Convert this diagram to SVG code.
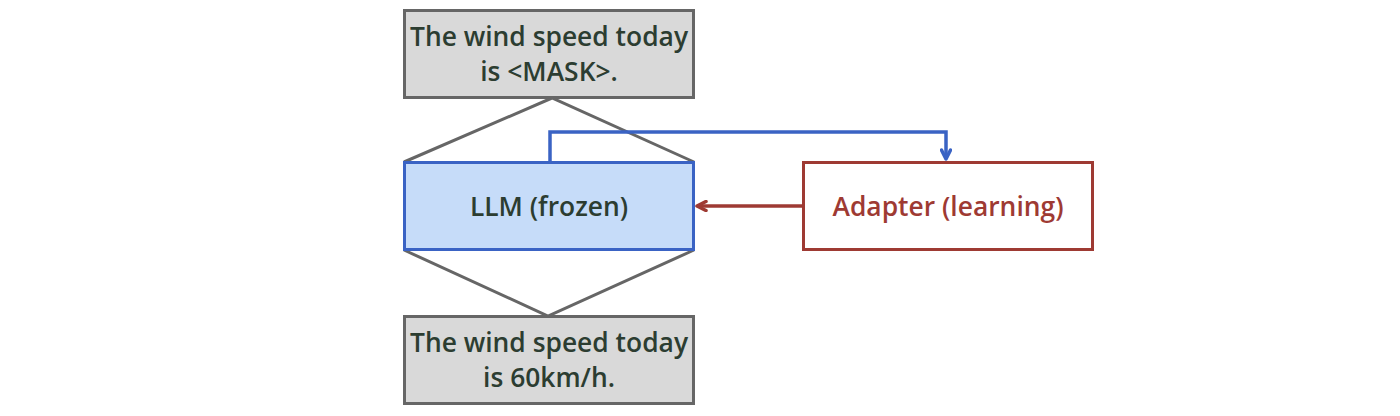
<svg xmlns="http://www.w3.org/2000/svg" width="1400" height="416" viewBox="0 0 1400 416">
<defs>
<style>
.txt{font-family:"Open Sans","Noto Sans","Liberation Sans",sans-serif;font-weight:600;font-size:26.4px;text-anchor:middle}
.g{fill:#d9d9d9;stroke:#666666;stroke-width:3}
.dark{fill:#2c3d31}
.tri{fill:none;stroke:#666666;stroke-width:3}
</style>
<marker id="ab" viewBox="0 0 14 12" refX="11" refY="6" markerWidth="14" markerHeight="12" markerUnits="userSpaceOnUse" orient="auto">
<path d="M2,1.5 L11,6 L2,10.5" fill="none" stroke="#3a63c4" stroke-width="3.5" stroke-linecap="round" stroke-linejoin="round"/>
</marker>
<marker id="ar" viewBox="0 0 14 12" refX="11" refY="6" markerWidth="14" markerHeight="12" markerUnits="userSpaceOnUse" orient="auto">
<path d="M2,1.5 L11,6 L2,10.5" fill="none" stroke="#9e3a33" stroke-width="3.5" stroke-linecap="round" stroke-linejoin="round"/>
</marker>
</defs>
<rect width="1400" height="416" fill="#ffffff"/>
<g id="connectors">
<polyline class="tri" points="404,162 552,98 694,162"/>
<polyline class="tri" points="404,250 548,316 694,250"/>
</g>
<g id="input">
<rect class="g" x="404.5" y="10.5" width="289" height="87"/>
<text class="txt dark" x="549" y="46">The wind speed today</text>
<text class="txt dark" x="549" y="81">is &lt;MASK&gt;.</text>
</g>
<g id="llm">
<rect x="404.5" y="162.5" width="289" height="87" fill="#c6dcf9" stroke="#3a63c4" stroke-width="3"/>
<text class="txt dark" x="549" y="216">LLM (frozen)</text>
</g>
<g id="adapter">
<rect x="803.5" y="162.5" width="289" height="87" fill="#ffffff" stroke="#9e3a33" stroke-width="3"/>
<text class="txt" x="948" y="216" fill="#9e3a33">Adapter (learning)</text>
</g>
<g id="output">
<rect class="g" x="404.5" y="316.5" width="289" height="87"/>
<text class="txt dark" x="549" y="352">The wind speed today</text>
<text class="txt dark" x="549" y="387">is 60km/h.</text>
</g>
<g id="edges">
<polyline points="550,162 550,132 946,132 946,159" fill="none" stroke="#3a63c4" stroke-width="3.5" marker-end="url(#ab)"/>
<line x1="803" y1="206" x2="697" y2="206" stroke="#9e3a33" stroke-width="3.5" marker-end="url(#ar)"/>
</g>
</svg>
